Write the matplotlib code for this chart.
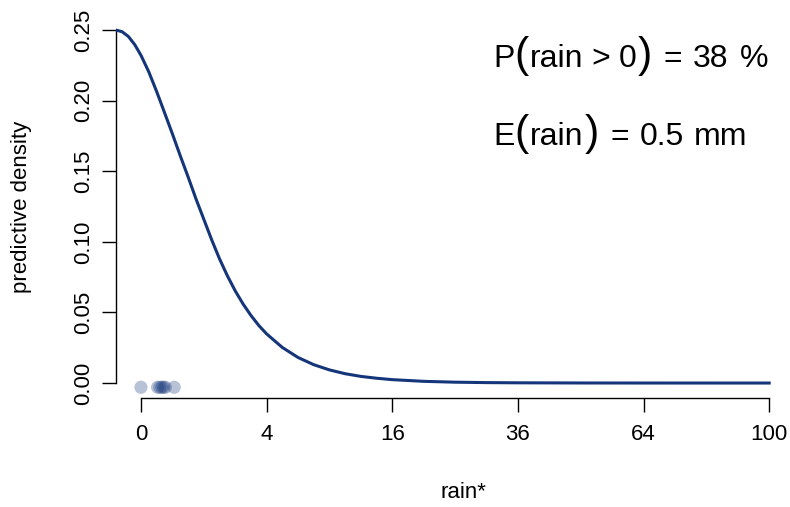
import numpy as np
import matplotlib
matplotlib.use("Agg")
import matplotlib.pyplot as plt
from matplotlib.offsetbox import TextArea, DrawingArea, HPacker, AnnotationBbox

plt.rcParams['font.family'] = ['Liberation Sans', 'DejaVu Sans']

# predictive density of latent rain* (sqrt(rain*) and density)
curve_s = [-0.4, -0.3, -0.2, -0.1, 0.0, 0.125, 0.25, 0.375, 0.5, 0.625, 0.75, 0.875,
           1.0, 1.125, 1.25, 1.375, 1.5, 1.625, 1.75, 1.875, 2.0, 2.25, 2.5, 2.75,
           3.0, 3.25, 3.5, 3.75, 4.0, 4.5, 5.0, 5.5, 6.0, 7.0, 8.0, 9.0, 10.0]
curve_y = [0.2500, 0.2488, 0.2454, 0.2397, 0.2321, 0.2203, 0.2064, 0.1915, 0.1765,
           0.1610, 0.1460, 0.1305, 0.1160, 0.1015, 0.0880, 0.0760, 0.0653, 0.0560,
           0.0479, 0.0408, 0.0348, 0.0252, 0.0181, 0.0130, 0.0093, 0.0066, 0.0047,
           0.0034, 0.0024, 0.0012, 0.0006, 0.0003, 0.00016, 0.00004, 0.00001, 0.0, 0.0]

# ensemble members (mm)
members = [0.0, 0.07, 0.09, 0.11, 0.13, 0.15, 0.28]

xticks = [0, 4, 16, 36, 64, 100]
yticks = [0.00, 0.05, 0.10, 0.15, 0.20, 0.25]
p_rain = 38
e_rain = 0.5


def fwd(x):
    x = np.asarray(x, dtype=float)
    return np.sign(x) * np.sqrt(np.abs(x))


def inv(y):
    y = np.asarray(y, dtype=float)
    return np.sign(y) * y ** 2


blue = '#15357A'
base_fs = 16
ann_fs = 23
par_fs = 31

fig = plt.figure(figsize=(7.9, 5.07), dpi=100)
ax = fig.add_axes([116 / 790, 109 / 507, (785 - 116) / 790, 378 / 507])
ax.set_xscale('function', functions=(fwd, inv))

curve_x = [np.sign(s) * s ** 2 for s in curve_s]   # back to mm for the sqrt axis
ax.plot(curve_x, curve_y, color=blue, lw=2.2, zorder=3)
ax.scatter(members, [-0.003] * len(members), s=90, color=blue, alpha=0.3,
           edgecolors='none', zorder=2)

ax.set_xlim(-0.158, 105.1)
ax.set_ylim(-0.0106, 0.2571)

for s in ['top', 'right']:
    ax.spines[s].set_visible(False)
ax.spines['left'].set_bounds(0, 0.25)
ax.spines['bottom'].set_bounds(0, 100)
for s in ['left', 'bottom']:
    ax.spines[s].set_linewidth(1.0)

ax.set_xticks(xticks)
ax.set_xticklabels([str(t) for t in xticks])
ax.set_yticks(yticks)
ax.set_yticklabels(['%.2f' % t for t in yticks], rotation=90, va='center')
ax.tick_params(axis='both', length=10, width=1.0, labelsize=base_fs)
ax.tick_params(axis='x', pad=9)
ax.tick_params(axis='y', pad=6)

fig.text(22 / 790, 1 - 207 / 507, 'predictive density', rotation=90,
         ha='center', va='center', fontsize=base_fs)
fig.text(463 / 790, 1 - 492 / 507, 'rain*', ha='center', va='center', fontsize=base_fs)


def gap(w):
    return DrawingArea(w, 1)


def txt(s, fs=ann_fs):
    return TextArea(s, textprops=dict(fontsize=fs, color='black'))


def math_line(parts, y_px):
    box = HPacker(children=parts, align='baseline', pad=0, sep=0)
    ab = AnnotationBbox(box, (493 / 790, 1 - y_px / 507), xycoords='figure fraction',
                        box_alignment=(0, 0), frameon=False, pad=0)
    fig.add_artist(ab)


math_line([txt('P'), txt('(', par_fs), gap(1), txt('rain'), gap(6), txt('>'), gap(6),
           txt('0'), gap(1), txt(')', par_fs), gap(8), txt('='), gap(8),
           txt('%d' % p_rain), gap(8), txt('%')], 76)
math_line([txt('E'), txt('(', par_fs), gap(1), txt('rain'), gap(1), txt(')', par_fs),
           gap(8), txt('='), gap(8), txt('%.1f' % e_rain), gap(7), txt('mm')], 154)

fig.savefig('out.png', dpi=100)
